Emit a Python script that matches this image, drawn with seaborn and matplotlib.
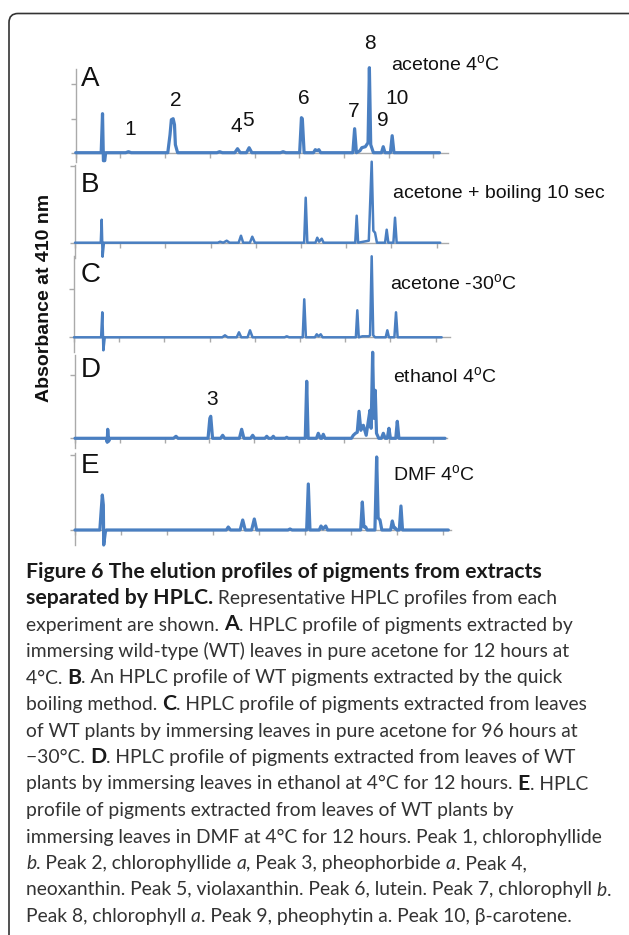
import numpy as np
import matplotlib
matplotlib.use("Agg")
import matplotlib.pyplot as plt
import seaborn as sns
from matplotlib.patches import FancyBboxPatch
from matplotlib.transforms import IdentityTransform

# ==========================================
# data: HPLC traces (retention time in min, absorbance in arbitrary units)
# ==========================================
A_time = [0.0, 2.85, 3.0, 3.1, 3.25, 3.35, 5.6, 5.9, 6.2, 10.3, 10.55, 10.7, 10.9, 11.05, 11.15, 11.4,
          15.8, 16.1, 16.4, 17.8, 18.1, 18.4, 19.1, 19.4, 19.7, 22.9, 23.2, 23.5, 25.05, 25.25, 25.35, 25.55,
          26.6, 26.8, 27.0, 27.2, 27.4, 31.0, 31.2, 31.4, 31.8, 32.0, 32.4, 32.7, 32.85, 33.0, 33.3,
          34.2, 34.4, 34.6, 35.2, 35.4, 35.6, 40.7]
A_abs = [0.0, 0.0, 3.9, -0.8, -0.8, 0.0, 0.0, 0.1, 0.0, 0.0, 1.8, 3.3, 3.4, 2.8, 0.8, 0.0,
         0.0, 0.1, 0.0, 0.0, 0.4, 0.0, 0.0, 0.5, 0.0, 0.0, 0.1, 0.0, 0.0, 3.5, 3.4, 0.0,
         0.0, 0.3, 0.2, 0.3, 0.0, 0.0, 2.4, 0.0, 0.2, 0.5, 0.6, 1.0, 8.5, 0.8, 0.0,
         0.0, 0.6, 0.0, 0.0, 1.7, 0.0, 0.0]

B_time = [0.0, 2.85, 2.95, 3.05, 3.2, 15.8, 16.04, 16.4, 16.78, 17.1, 18.1, 18.36, 18.6, 19.35, 19.61, 19.9,
          25.35, 25.52, 25.7, 26.6, 26.8, 27.0, 27.29, 27.5, 31.0, 31.16, 31.32, 32.5, 32.82, 33.0, 33.19, 33.4,
          34.3, 34.48, 34.66, 35.22, 35.4, 35.58, 40.4]
B_abs = [0.0, 0.0, 2.3, -1.4, 0.0, 0.0, 0.1, 0.0, 0.2, 0.0, 0.0, 0.7, 0.0, 0.0, 0.6, 0.0,
         0.0, 4.5, 0.0, 0.0, 0.5, 0.1, 0.4, 0.0, 0.0, 2.7, 0.0, 0.2, 8.1, 1.2, 1.0, 0.0,
         0.0, 1.3, 0.0, 0.0, 2.5, 0.0, 0.0]

C_time = [0.0, 3.0, 3.13, 3.25, 3.4, 16.4, 16.7, 17.0, 18.0, 18.25, 18.5, 19.2, 19.47, 19.75, 23.3, 23.53, 23.8,
          25.3, 25.47, 25.65, 26.65, 26.85, 27.05, 27.29, 27.5, 31.18, 31.34, 31.5, 31.9, 32.6, 32.75, 32.93, 33.1,
          33.3, 34.48, 34.66, 34.84, 35.44, 35.62, 35.8, 40.67]
C_abs = [0.0, 0.0, 2.5, -1.3, 0.0, 0.0, 0.2, 0.0, 0.0, 0.5, 0.0, 0.0, 0.7, 0.0, 0.0, 0.1, 0.0,
         0.0, 3.8, 0.0, 0.0, 0.3, 0.1, 0.3, 0.0, 0.0, 2.7, 0.0, 0.1, 0.1, 0.2, 8.1, 0.2,
         0.0, 0.0, 0.7, 0.0, 0.0, 2.5, 0.0, 0.0]

D_time = [0.0, 3.5, 3.6, 3.65, 3.75, 3.9, 11.0, 11.27, 11.5, 14.85, 15.05, 15.15, 15.35, 16.25, 16.48, 16.7,
          18.35, 18.6, 18.85, 19.6, 19.83, 20.05, 21.2, 21.4, 21.6, 21.95, 22.13, 22.3, 23.45, 23.63, 23.8,
          25.7, 25.86, 26.02, 26.95, 27.15, 27.4, 27.55, 27.71, 27.9,
          30.85, 31.06, 31.3, 31.5, 31.7, 31.9, 32.18, 32.5, 32.7, 32.92, 33.05, 33.22, 33.36, 33.51, 33.65, 33.9,
          34.2, 34.41, 34.62, 34.85, 35.04, 35.2, 35.8, 35.97, 36.15, 41.3]
D_abs = [0.0, 0.0, -0.4, 0.9, -0.3, 0.0, 0.0, 0.2, 0.0, 0.0, 2.0, 2.2, 0.0, 0.0, 0.3, 0.0,
         0.0, 0.9, 0.0, 0.0, 0.3, 0.0, 0.0, 0.2, 0.0, 0.0, 0.2, 0.0, 0.0, 0.1, 0.0,
         0.0, 5.7, 0.0, 0.0, 0.5, 0.0, 0.0, 0.4, 0.0,
         0.0, 0.3, 0.5, 0.6, 2.7, 0.8, 1.3, 0.3, 1.5, 2.8, 1.0, 8.6, 2.0, 4.8, 0.5, 0.0,
         0.0, 0.5, 0.0, 0.0, 1.0, 0.0, 0.0, 1.7, 0.0, 0.0]

E_time = [0.0, 2.7, 2.85, 2.97, 3.08, 3.12, 3.3, 3.4, 16.45, 16.66, 16.9, 17.95, 18.23, 18.5, 19.2, 19.49, 19.75,
          23.15, 23.37, 23.6, 25.18, 25.36, 25.54, 26.55, 26.74, 26.95, 27.25, 27.45, 31.05, 31.23, 31.4, 31.6, 31.75,
          32.6, 32.79, 32.95, 33.15, 33.35, 34.3, 34.49, 34.68, 34.8, 35.0, 35.25, 35.43, 35.6, 40.58]
E_abs = [0.0, 0.0, 2.0, 3.5, 2.5, -1.5, -0.2, 0.0, 0.0, 0.3, 0.0, 0.0, 1.0, 0.0, 0.0, 1.1, 0.0,
         0.0, 0.1, 0.0, 0.0, 4.6, 0.0, 0.0, 0.4, 0.1, 0.4, 0.0, 0.0, 2.8, 0.3, 0.3, 0.0,
         0.0, 7.3, 1.2, 1.0, 0.0, 0.0, 0.9, 0.2, 0.2, 0.0, 0.0, 2.4, 0.0, 0.0]

panel_letters = ["A", "B", "C", "D", "E"]
panel_conditions = ["acetone 4$^{\\mathrm{o}}$C", "acetone + boiling 10 sec", "acetone -30$^{\\mathrm{o}}$C",
                    "ethanol 4$^{\\mathrm{o}}$C", "DMF 4$^{\\mathrm{o}}$C"]
traces = [(A_time, A_abs), (B_time, B_abs), (C_time, C_abs), (D_time, D_abs), (E_time, E_abs)]

# peak numbers: (panel, label, time, height of label baseline)
peak_labels = [(0, "1", 6.07, 1.8), (0, "2", 11.22, 4.64), (0, "4", 18.0, 2.07), (0, "5", 19.3, 2.67),
               (0, "6", 25.57, 4.9), (0, "7", 31.05, 3.57), (0, "8", 32.92, 10.4), (0, "9", 34.4, 2.64),
               (0, "10", 35.9, 4.9), (3, "3", 15.26, 3.3)]

x_ticks = [0, 5, 10, 15, 20, 25, 30, 35, 40]

caption_lines = [
    [("Figure 6 The elution profiles of pigments from extracts", "b")],
    [("separated by HPLC.", "b"), (" Representative HPLC profiles from each", "n")],
    [("experiment are shown. ", "n"), ("A", "b"), (". HPLC profile of pigments extracted by", "n")],
    [("immersing wild-type (WT) leaves in pure acetone for 12 hours at", "n")],
    [("4°C. ", "n"), ("B", "b"), (". An HPLC profile of WT pigments extracted by the quick", "n")],
    [("boiling method. ", "n"), ("C", "b"), (". HPLC profile of pigments extracted from leaves", "n")],
    [("of WT plants by immersing leaves in pure acetone for 96 hours at", "n")],
    [("\u221230°C. ", "n"), ("D", "b"), (". HPLC profile of pigments extracted from leaves of WT", "n")],
    [("plants by immersing leaves in ethanol at 4°C for 12 hours. ", "n"), ("E", "b"), (". HPLC", "n")],
    [("profile of pigments extracted from leaves of WT plants by", "n")],
    [("immersing leaves in DMF at 4°C for 12 hours. Peak 1, chlorophyllide", "n")],
    [("b", "i"), (". Peak 2, chlorophyllide ", "n"), ("a", "i"), (", Peak 3, pheophorbide ", "n"),
     ("a", "i"), (". Peak 4,", "n")],
    [("neoxanthin. Peak 5, violaxanthin. Peak 6, lutein. Peak 7, chlorophyll ", "n"), ("b", "i"), (".", "n")],
    [("Peak 8, chlorophyll ", "n"), ("a", "i"), (". Peak 9, pheophytin a. Peak 10, \u03b2-carotene.", "n")],
]

# ==========================================
# layout (pixels of the 629 x 935 canvas)
# ==========================================
W, H = 629, 935
# x0 (t=0), px per 5 min, right end, top, baseline, bottom, y ticks
panel_layout = [
    dict(x0=75.7, sp=44.7, right=448, top=69, base=152.7, bottom=162, yt=[0, 3.4, 6.9], lw=2.3,
         letter_y=86, cond_x=391, cond_y=70),
    dict(x0=75.0, sp=45.2, right=448, top=165, base=242.7, bottom=258, yt=[0, 7.7], lw=1.8,
         letter_y=191.7, cond_x=393, cond_y=198.5),
    dict(x0=74.0, sp=45.2, right=450, top=256, base=337.3, bottom=352, yt=[0, 4.8], lw=1.8,
         letter_y=281.7, cond_x=390, cond_y=288.5),
    dict(x0=75.0, sp=44.8, right=447, top=355, base=438.3, bottom=448, yt=[0, 6.3], lw=2.3,
         letter_y=376.7, cond_x=393, cond_y=382),
    dict(x0=75.0, sp=46.0, right=451, top=453, base=530, bottom=545, yt=[0, 7.5], lw=2.3,
         letter_y=473.3, cond_x=393, cond_y=480),
]
px_per_unit = 10.0

line_color = "#4a7fc1"
axis_color = "#aaaaaa"
text_font = ["Liberation Sans", "DejaVu Sans"]
cap_font = ["Lato", "DejaVu Sans"]

sns.set_style("white")
plt.rcParams["font.family"] = text_font
plt.rcParams["mathtext.fontset"] = "custom"
plt.rcParams["mathtext.rm"] = "Liberation Sans"
plt.rcParams["mathtext.it"] = "Liberation Sans:italic"

fig = plt.figure(figsize=(W / 100, H / 100), dpi=100, facecolor="white")


def fx(px):
    return px / W


def fy(py):
    return 1 - py / H


axes = []
for (t, a), L in zip(traces, panel_layout):
    ax = fig.add_axes([fx(L["x0"]), fy(L["bottom"]), (L["right"] - L["x0"]) / W, (L["bottom"] - L["top"]) / H])
    ax.patch.set_visible(False)
    sns.lineplot(x=t, y=a, ax=ax, color=line_color, linewidth=L["lw"], estimator=None, sort=False,
                 clip_on=False, zorder=3)
    ax.set_xlim(0, (L["right"] - L["x0"]) / L["sp"] * 5)
    ax.set_ylim(-(L["bottom"] - L["base"]) / px_per_unit, (L["base"] - L["top"]) / px_per_unit)
    ax.spines["top"].set_visible(False)
    ax.spines["right"].set_visible(False)
    ax.spines["bottom"].set_position(("data", 0))
    for s in ["left", "bottom"]:
        ax.spines[s].set_color(axis_color)
        ax.spines[s].set_linewidth(1.0)
    ax.set_xticks(x_ticks)
    ax.set_yticks(L["yt"])
    ax.tick_params(axis="both", direction="out", length=3.5, width=1.0, color=axis_color,
                   labelbottom=False, labelleft=False, bottom=True, left=True)
    ax.set_xlabel("")
    ax.set_ylabel("")
    axes.append(ax)

    # panel letter and extraction condition
    idx = len(axes) - 1
    fig.text(fx(81), fy(L["letter_y"]), panel_letters[idx], fontsize=20, va="baseline", ha="left", color="#111111")
    fig.text(fx(L["cond_x"]), fy(L["cond_y"]), panel_conditions[idx], fontsize=14, va="baseline", ha="left",
             color="#111111")

for p, lab, t, y in peak_labels:
    axes[p].text(t, y, lab, fontsize=15, ha="center", va="baseline", color="#111111")

fig.text(fx(45), fy(298), "Absorbance at 410 nm", rotation=90, fontsize=14, fontweight="bold",
         ha="center", va="center", color="#111111")

# ==========================================
# frame
# ==========================================
frame = FancyBboxPatch((9, H - 945), 640, 945 - 13.5, boxstyle="round,pad=0,rounding_size=9",
                       facecolor="none", edgecolor="#333333", linewidth=1.2, transform=IdentityTransform())
fig.add_artist(frame)

# ==========================================
# caption (mixed bold / italic runs)
# ==========================================
renderer = fig.canvas.get_renderer()
styles = {"n": dict(fontweight="normal", fontstyle="normal", color="#333333"),
          "b": dict(fontweight="bold", fontstyle="normal", color="#1a1a1a"),
          "i": dict(fontweight="normal", fontstyle="italic", color="#333333")}


def advance(s, size, st):
    a = fig.text(0, 0, s + "|", fontsize=size, family=cap_font, **styles[st])
    b = fig.text(0, 0, "|", fontsize=size, family=cap_font, **styles[st])
    w = a.get_window_extent(renderer).width - b.get_window_extent(renderer).width
    a.remove()
    b.remove()
    return w


# regular text fitted to line 13, bold text fitted to line 1
ref_w = sum(advance(s, 12, st) for s, st in caption_lines[12])
cap_size = 12 * (612 - 26) / ref_w
bold_w = advance(caption_lines[0][0][0], 12, "b")
bold_size = 12 * (541 - 26) / bold_w
sizes = {"n": cap_size, "i": cap_size, "b": bold_size}

for i, line in enumerate(caption_lines):
    x = 26.0
    y = 577.5 + 26.5 * i
    for s, st in line:
        fig.text(fx(x), fy(y), s, fontsize=sizes[st], family=cap_font, ha="left", va="baseline", **styles[st])
        x += advance(s, sizes[st], st)

fig.savefig("out.png", dpi=100, facecolor="white")
